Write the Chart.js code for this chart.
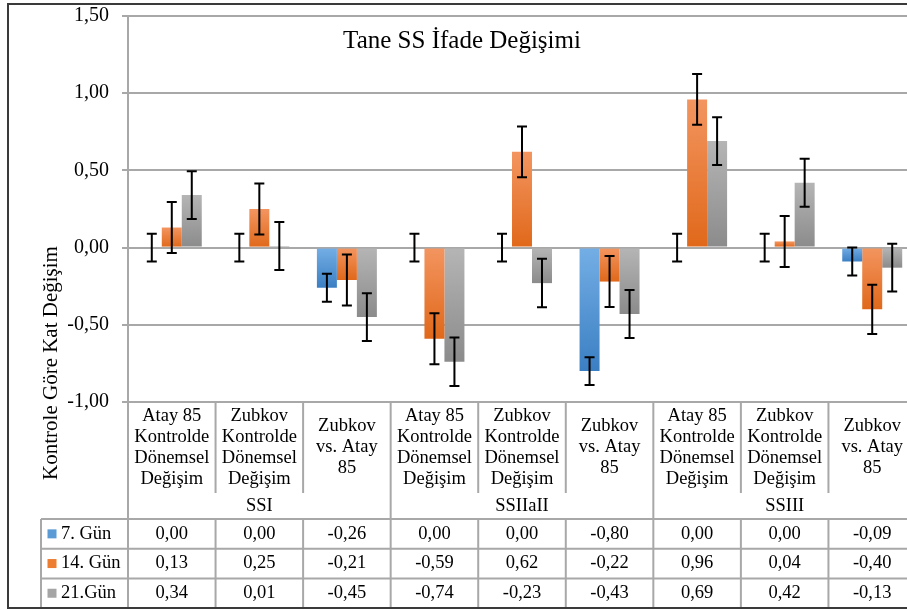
<!DOCTYPE html>
<html>
<head>
<meta charset="utf-8">
<script src="https://cdn.jsdelivr.net/npm/chart.js@4"></script>
<style>
  html, body { margin: 0; padding: 0; background: #fff; overflow: hidden; }
  #wrap { width: 930px; height: 610px; }
</style>
</head>
<body>
<div id="wrap"><canvas id="chart-box" width="930" height="610"></canvas></div>
<script>
const chartTitle = "Tane SS İfade Değişimi";
const yTitle = "Kontrole Göre Kat Değişim";

const categories = [
  ["Atay 85", "Kontrolde", "Dönemsel", "Değişim"],
  ["Zubkov", "Kontrolde", "Dönemsel", "Değişim"],
  ["Zubkov", "vs. Atay", "85"],
  ["Atay 85", "Kontrolde", "Dönemsel", "Değişim"],
  ["Zubkov", "Kontrolde", "Dönemsel", "Değişim"],
  ["Zubkov", "vs. Atay", "85"],
  ["Atay 85", "Kontrolde", "Dönemsel", "Değişim"],
  ["Zubkov", "Kontrolde", "Dönemsel", "Değişim"],
  ["Zubkov", "vs. Atay", "85"],
];
const groups = ["SSI", "SSIIaII", "SSIII"];
const seriesNames = ["7. Gün", "14. Gün", "21.Gün"];

const day7 = [0.00, 0.00, -0.26, 0.00, 0.00, -0.80, 0.00, 0.00, -0.09];
const day14 = [0.13, 0.25, -0.21, -0.59, 0.62, -0.22, 0.96, 0.04, -0.40];
const day21 = [0.34, 0.01, -0.45, -0.74, -0.23, -0.43, 0.69, 0.42, -0.13];

const err7 = [0.09, 0.09, 0.09, 0.09, 0.09, 0.09, 0.09, 0.09, 0.09];
const err14 = [0.165, 0.165, 0.165, 0.165, 0.165, 0.165, 0.165, 0.165, 0.16];
const err21 = [0.155, 0.155, 0.155, 0.157, 0.157, 0.155, 0.155, 0.156, 0.155];

const yTicks = [-1.0, -0.5, 0.0, 0.5, 1.0, 1.5];

const FONT = "'Liberation Serif', 'Times New Roman', serif";
const LINE = "#a8a8a8";

// light / mid / dark for each series
const palette = [
  ["#74aee5", "#5b9bd5", "#3b7fc3"],
  ["#f39560", "#ed7d31", "#e0681a"],
  ["#b5b5b5", "#a5a5a5", "#8b8b8b"],
];
const seriesData = [day7, day14, day21];
const seriesErr = [err7, err14, err21];

function fmt(v) {
  return v.toFixed(2).replace(".", ",");
}

function barFill(k) {
  return function (ctx) {
    const chart = ctx.chart;
    if (!chart.chartArea || ctx.raw === undefined) return palette[k][1];
    const y = chart.scales.y;
    const a = y.getPixelForValue(0);
    const b = y.getPixelForValue(ctx.raw);
    const top = Math.min(a, b), bottom = Math.max(a, b);
    if (bottom - top < 1) return palette[k][1];
    const g = chart.ctx.createLinearGradient(0, top, 0, bottom);
    g.addColorStop(0, palette[k][0]);
    g.addColorStop(1, palette[k][2]);
    return g;
  };
}

const errorBars = {
  id: "errorBars",
  afterDatasetsDraw(chart) {
    const ctx = chart.ctx;
    const y = chart.scales.y;
    ctx.save();
    ctx.strokeStyle = "#000";
    ctx.lineWidth = 2;
    seriesData.forEach((vals, k) => {
      const meta = chart.getDatasetMeta(k);
      meta.data.forEach((bar, i) => {
        const x = bar.x;
        const t = y.getPixelForValue(vals[i] + seriesErr[k][i]);
        const b = y.getPixelForValue(vals[i] - seriesErr[k][i]);
        ctx.beginPath();
        ctx.moveTo(x, t); ctx.lineTo(x, b);
        ctx.moveTo(x - 5, t); ctx.lineTo(x + 5, t);
        ctx.moveTo(x - 5, b); ctx.lineTo(x + 5, b);
        ctx.stroke();
      });
    });
    ctx.restore();
  },
};

const dataTable = {
  id: "dataTable",
  afterDraw(chart) {
    const ctx = chart.ctx;
    const x = chart.scales.x;
    const area = chart.chartArea;
    const w = (area.right - area.left) / categories.length;
    const edge = i => area.left + i * w;
    const headTop = area.bottom;
    const headBottom = 493;
    const groupBottom = 519;
    const rowH = 29.7;
    const tableBottom = 608;

    ctx.save();
    ctx.strokeStyle = LINE;
    ctx.lineWidth = 2;
    ctx.beginPath();
    for (let i = 0; i <= categories.length; i++) {
      const xi = edge(i);
      if (i % 3 === 0) {
        ctx.moveTo(xi, headTop); ctx.lineTo(xi, tableBottom);
      } else {
        ctx.moveTo(xi, headTop); ctx.lineTo(xi, headBottom);
        ctx.moveTo(xi, groupBottom); ctx.lineTo(xi, tableBottom);
      }
    }
    ctx.moveTo(41, groupBottom); ctx.lineTo(41, tableBottom);
    for (let r = 0; r < 3; r++) {
      const yy = groupBottom + r * rowH;
      ctx.moveTo(41, yy); ctx.lineTo(area.right + 20, yy);
    }
    ctx.stroke();

    // outer frame
    ctx.strokeStyle = "#3a3a3a";
    ctx.lineWidth = 2;
    ctx.strokeRect(8, 4, 960, 604);

    ctx.fillStyle = "#000";
    // title
    ctx.font = "25px " + FONT;
    ctx.textAlign = "center";
    ctx.textBaseline = "alphabetic";
    ctx.fillText(chartTitle, 462, 48);

    // y title
    ctx.save();
    ctx.translate(57, 363);
    ctx.rotate(-Math.PI / 2);
    ctx.font = "21px " + FONT;
    ctx.fillText(yTitle, 0, 0);
    ctx.restore();

    // category labels
    ctx.font = "18.5px " + FONT;
    ctx.textBaseline = "middle";
    const mid = (headTop + headBottom) / 2;
    categories.forEach((lines, i) => {
      const cx = x.getPixelForValue(i);
      lines.forEach((s, j) => {
        ctx.fillText(s, cx, mid + (j - (lines.length - 1) / 2) * 21);
      });
    });

    // group labels
    groups.forEach((g, n) => {
      const cx = (x.getPixelForValue(n * 3) + x.getPixelForValue(n * 3 + 2)) / 2;
      ctx.fillText(g, cx, (headBottom + groupBottom) / 2);
    });

    // data rows
    seriesData.forEach((vals, k) => {
      const cy = groupBottom + (k + 0.5) * rowH;
      ctx.fillStyle = palette[k][1];
      ctx.fillRect(47.5, cy - 4.5, 9, 9);
      ctx.fillStyle = "#000";
      ctx.textAlign = "left";
      ctx.fillText(seriesNames[k], 61, cy);
      ctx.textAlign = "center";
      vals.forEach((v, i) => {
        ctx.fillText(fmt(v), x.getPixelForValue(i), cy);
      });
    });
    ctx.restore();
  },
};

const ctx = document.getElementById("chart-box").getContext("2d");
new Chart(ctx, {
  type: "bar",
  data: {
    labels: categories,
    datasets: seriesData.map((vals, k) => ({
      label: seriesNames[k],
      data: vals,
      backgroundColor: barFill(k),
      borderWidth: 0,
      categoryPercentage: 0.685,
      barPercentage: 1.0,
    })),
  },
  options: {
    responsive: false,
    devicePixelRatio: 1,
    animation: false,
    layout: {
      padding: { top: 16, bottom: 208, left: 0, right: 14 },
    },
    plugins: {
      legend: { display: false },
      tooltip: { enabled: false },
      title: { display: false },
    },
    scales: {
      x: {
        display: false,
      },
      y: {
        min: -1,
        max: 1.5,
        afterFit(scale) {
          scale.width = 128;
          scale.paddingTop = 0;
          scale.paddingBottom = 0;
        },
        afterBuildTicks(scale) {
          scale.ticks = yTicks.map(v => ({ value: v }));
        },
        ticks: {
          color: "#000",
          padding: 13,
          font: { family: FONT, size: 20 },
          callback: v => fmt(v),
        },
        grid: {
          color: LINE,
          lineWidth: 2,
          tickLength: 6,
          tickColor: LINE,
        },
        border: { display: true, color: LINE, width: 2 },
      },
    },
  },
  plugins: [errorBars, dataTable],
});
</script>
</body>
</html>
